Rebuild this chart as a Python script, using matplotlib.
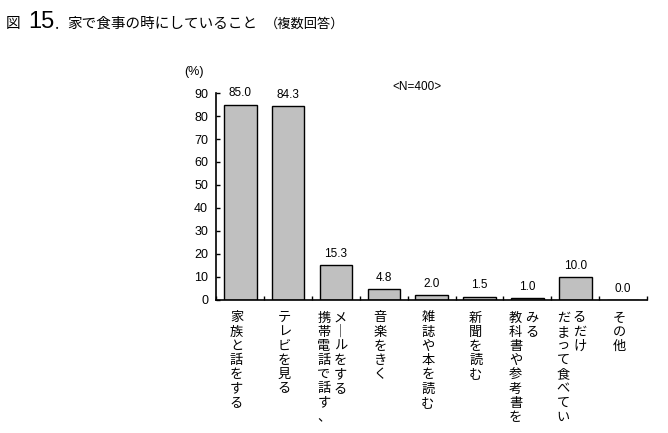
import numpy as np
from matplotlib import pyplot as plt

plt.rcParams['font.family'] = ['Noto Sans CJK JP', 'DejaVu Sans']

# 項目（縦書き、列は左から右）
labels = [
    ['家族と話をする'],
    ['テレビを見る'],
    ['携帯電話で話す、', 'メールをする'],
    ['音楽をきく'],
    ['雑誌や本を読む'],
    ['新聞を読む'],
    ['教科書や参考書を', 'みる'],
    ['だまって食べてい', 'るだけ'],
    ['その他'],
]
values = [85.0, 84.3, 15.3, 4.8, 2.0, 1.5, 1.0, 10.0, 0.0]
y_ticks = [0, 10, 20, 30, 40, 50, 60, 70, 80, 90]


def vertical(s):
    # 縦書き用に長音を縦棒に置き換える
    return '\n'.join(s.replace('ー', '｜'))


fig = plt.figure(figsize=(6.68, 4.33), dpi=100)
ax = fig.add_axes([0.324, 0.3072, 0.6446, 0.478])

x = np.arange(len(values))
ax.bar(x, values, width=0.68, color='#c0c0c0', edgecolor='black', linewidth=1.0)
for xi, v in zip(x, values):
    ax.text(xi, v + 2.2, f'{v:.1f}', ha='center', va='bottom', fontsize=8.5,
            family=['Liberation Sans', 'DejaVu Sans'])

ax.set_xlim(-0.5, len(values) - 0.5)
ax.set_ylim(0, 90)
ax.set_yticks(y_ticks)
ax.set_yticklabels([str(t) for t in y_ticks], fontsize=9,
                   family=['Liberation Sans', 'DejaVu Sans'])
ax.tick_params(axis='y', direction='in', length=3, width=1, pad=6)
ax.set_xticks(np.arange(len(values) + 1) - 0.5)
ax.set_xticklabels([])
ax.tick_params(axis='x', direction='in', length=3, width=1)
for s in ['top', 'right']:
    ax.spines[s].set_visible(False)
for s in ['left', 'bottom']:
    ax.spines[s].set_linewidth(1.2)

# 縦書きラベル
for xi, cols in zip(x, labels):
    n = len(cols)
    for j, col in enumerate(cols):
        off = (j - (n - 1) / 2) * 0.34
        ax.text(xi + off - 0.08, -5, vertical(col), ha='center', va='top',
                fontsize=9.5, linespacing=1.12, transform=ax.transData)

fig.text(0.29, 0.833, '(%)', fontsize=9, ha='center', va='center',
         family=['Liberation Sans', 'DejaVu Sans'])
fig.text(0.587, 0.798, '<N=400>', fontsize=8.5, ha='left', va='center',
         family=['Liberation Sans', 'DejaVu Sans'])

# タイトル
fig.text(0.008, 0.945, '図', fontsize=10.5, ha='left', va='center')
fig.text(0.043, 0.949, '15', fontsize=17, ha='left', va='center',
         family=['Liberation Sans', 'DejaVu Sans'])
fig.text(0.082, 0.943, '.', fontsize=11, ha='left', va='center')
fig.text(0.101, 0.945, '家で食事の時にしていること', fontsize=10.5, ha='left', va='center')
fig.text(0.396, 0.945, '（複数回答）', fontsize=9.5, ha='left', va='center')

fig.savefig('out.png', dpi=100, facecolor='white')
